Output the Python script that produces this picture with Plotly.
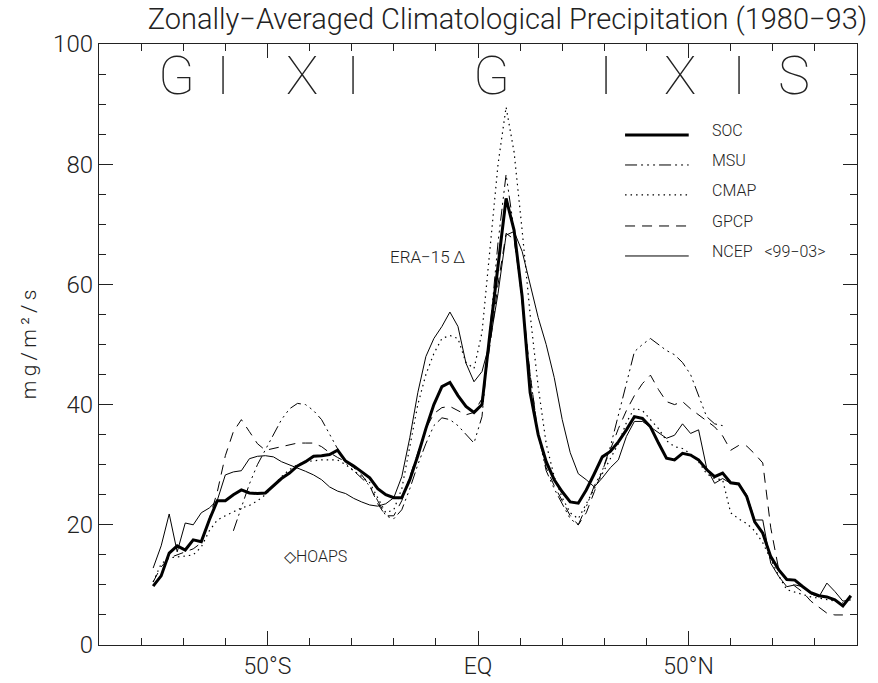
import plotly.graph_objects as go

# T62 Gaussian latitudes (deg)
lat = [-77.14, -75.24, -73.33, -71.43, -69.52, -67.62, -65.71, -63.81, -61.90, -60.00,
       -58.09, -56.19, -54.28, -52.38, -50.48, -48.57, -46.67, -44.76, -42.86, -40.95,
       -39.05, -37.14, -35.24, -33.33, -31.43, -29.52, -27.62, -25.71, -23.81, -21.90,
       -20.00, -18.10, -16.19, -14.29, -12.38, -10.48, -8.57, -6.67, -4.76, -2.86, -0.95,
       0.95, 2.86, 4.76, 6.67, 8.57, 10.48, 12.38, 14.29, 16.19, 18.10,
       20.00, 21.90, 23.81, 25.71, 27.62, 29.52, 31.43, 33.33, 35.24, 37.14,
       39.05, 40.95, 42.86, 44.76, 46.67, 48.57, 50.48, 52.38, 54.28, 56.19,
       58.09, 60.00, 61.90, 63.81, 65.71, 67.62, 69.52, 71.43, 73.33, 75.24,
       77.14, 79.04, 80.95, 82.85, 84.75, 86.65, 88.54]

soc = [9.8, 11.5, 15.3, 16.5, 15.8, 17.5, 17.2, 20.8, 24, 24,
       25, 25.8, 25.3, 25.2, 25.3, 26.5, 27.7, 28.6, 29.8, 30.5,
       31.4, 31.5, 31.7, 32.4, 30.6, 29.8, 28.8, 27.8, 26, 25,
       24.5, 24.5, 27.5, 31.5, 36, 40, 43, 43.7, 41.5, 39.7, 38.7,
       40, 52, 63.5, 74.3, 69, 58, 42, 35, 30.5, 27.5,
       25.5, 23.8, 23.6, 25.8, 28.5, 31.3, 32.2, 33.8, 35.8, 38,
       37.7, 36.3, 33.6, 31.1, 30.8, 31.9, 31.6, 30.8, 29.2, 28,
       28.6, 27, 26.8, 24.7, 20.5, 18.6, 14.7, 12.5, 10.9, 10.8,
       9.7, 8.7, 8.2, 8, 7.5, 6.5, 8.2]

msu = [None, None, None, None, None, None, None, None, None, None,
       19, 23, 26.8, 30, 32.5, 35, 37.5, 39.3, 40.2, 40,
       39, 37.5, 35, 32.5, 30.2, 29, 27.8, 26.5, 24, 21.5,
       21, 22.5, 26, 30, 33.5, 36.5, 37.8, 37.5, 36.5, 35, 33.6,
       38, 52, 67, 78.3, 69, 57, 45, 35, 29, 26,
       23.5, 21, 20, 23, 26.5, 29, 33, 38, 43.5, 48.8,
       50, 51, 50, 49, 48.3, 47, 45, 41.5, 38, 36.8,
       36.5, None, None, None, None, None, None, None, None, None,
       None, None, None, None, None, None, None]

cmap = [10.5, 13.5, 14.5, 14.6, 14.8, 15, 16.3, 19, 20.8, 21.5,
        22.1, 22.8, 23.2, 24, 25, 26.5, 28, 29.2, 30, 30.5,
        30.7, 30.8, 30.8, 30.8, 30, 29, 28, 27, 24.5, 22,
        22.5, 26, 33, 40, 45, 48.5, 51, 51.5, 51, 47, 46,
        52, 66, 80, 89.5, 82, 69, 55, 43, 33.5, 28,
        24.5, 22, 21, 23.5, 26, 28.5, 31, 33.5, 37, 39.4,
        39, 37.5, 36, 34, 33, 32.7, 31.8, 30.5, 28.5, 27.7,
        27.5, 22, 21, 20.2, 19, 17, 14.3, 11.5, 9.2, 8.8,
        8.5, 8, 7.8, 7.6, 7.3, 7, None]

gpcp = [10.5, 13, 14.5, 15, 15.5, 16, 17, 21, 25.5, 31.5,
        35.5, 37.5, 35.5, 33.5, 32.4, 32.7, 33, 33.3, 33.6, 33.6,
        33.6, 33, 32, 31.2, 30.5, 29.5, 28.3, 26.5, 23.5, 21.5,
        21.5, 24, 28, 32, 36, 38.5, 39.5, 39.7, 39, 38.3, 38.7,
        41, 50, 60, 68.5, 67.5, 58, 45, 35, 29.5, 26.5,
        24, 21.5, 20, 22, 25.5, 29, 32.5, 36, 39, 41.5,
        43.5, 44.9, 42.5, 40.5, 40, 40.5, 39.3, 38.3, 37.4, 36.3,
        34.8, 32.4, 33.2, 33.1, 31.8, 30.3, 19.5, 12.5, 11, 9.8,
        8.8, 7.3, 6.3, 5.3, 5, 5, None]

ncep = [12.8, 16.5, 21.8, 15.5, 20.3, 20, 22, 22.8, 24.1, 28.3,
        28.8, 29, 31, 31.4, 31.5, 31.3, 30.5, 30, 29.5, 28.9,
        28.3, 27.5, 26.3, 25.6, 25.2, 24.4, 23.8, 23.3, 23.1, 23.5,
        24.5, 28, 34.5, 42, 48, 51, 53, 55.4, 53, 46.9, 43.8,
        45.5, 50.5, 58.5, 68.2, 68.8, 65.5, 60, 54.5, 50, 44.5,
        37.5, 32, 28.5, 27.5, 26.3, 27.8, 29.5, 30.8, 34.7, 37.2,
        37.2, 36.3, 35.3, 34.4, 34.9, 36.8, 35.2, 35.8, 29.5, 26.9,
        27.7, 26.9, 26.9, 25, 20.8, 20.8, 13.6, 11.4, 9.7, 10,
        9.7, 8.5, 8, 10.3, 8.9, 7.3, 7.5]

series_names = ["SOC", "MSU", "CMAP", "GPCP", "NCEP   <99\u221203>"]
series_data = [soc, msu, cmap, gpcp, ncep]

x_tickvals = [-50, 0, 50]
x_ticktext = ["50\u00b0S", "EQ", "50\u00b0N"]
y_tickvals = [0, 20, 40, 60, 80, 100]

# top markers: (latitude, letter)
marker_lats = [-71.5, -60.6, -41.8, -29.7, 3.2, 30.4, 48.0, 62.0, 75.0]
marker_letters = ["G", "I", "X", "I", "G", "I", "X", "I", "S"]

styles = [
    dict(width=3, dash="solid"),
    dict(width=1, dash="12px,4px,2px,4px,2px,4px,2px,4px"),
    dict(width=1.2, dash="1.5px,4px"),
    dict(width=1, dash="10px,7px"),
    dict(width=1, dash="solid"),
]

FONT = "Roboto, Liberation Sans, sans-serif"
TXT = "#222222"
AX = "#222222"
TS = "\u2009"

fig = go.Figure()
for name, data, st in zip(series_names, series_data, styles):
    fig.add_trace(go.Scatter(x=lat, y=data, mode="lines", name=name,
                             line=dict(color="black", width=st["width"], dash=st["dash"]),
                             connectgaps=False, showlegend=False))

# manual legend
leg_y = [0.8486, 0.7987, 0.7488, 0.6972, 0.6473]
for name, st, yy in zip(series_names, styles, leg_y):
    fig.add_shape(type="line", xref="paper", yref="paper", x0=0.694, x1=0.778, y0=yy, y1=yy,
                  line=dict(color="black", width=st["width"], dash=st["dash"]))
    fig.add_annotation(xref="paper", yref="paper", x=0.806, y=yy + 0.008, text=name,
                       showarrow=False, xanchor="left", yanchor="middle",
                       font=dict(family=FONT, size=16, color=TXT, weight=300))

for la, le in zip(marker_lats, marker_letters):
    fig.add_annotation(x=la, y=94.8, text=le, showarrow=False, xanchor="center", yanchor="middle",
                       font=dict(family=FONT, size=54, color=TXT, weight=100))

fig.add_annotation(x=-2.6, y=64.5, text="ERA\u221215" + TS + "\u0394", showarrow=False,
                   xanchor="right", yanchor="middle",
                   font=dict(family=FONT, size=17, color=TXT, weight=300))
fig.add_annotation(x=-46.6, y=14.8, text="\u25c7HOAPS", showarrow=False,
                   xanchor="left", yanchor="middle",
                   font=dict(family=FONT, size=16, color=TXT, weight=300))

ytitle = TS.join(list("mg/m\u00b2/s"))

fig.update_layout(
    width=878, height=683,
    margin=dict(l=99, r=21, t=44, b=38, autoexpand=False),
    paper_bgcolor="white", plot_bgcolor="white",
    font=dict(family=FONT, color=TXT, weight=300),
    title=dict(text="Zonally\u2212Averaged Climatological Precipitation (1980\u221293)",
               x=0.578, xanchor="center", y=0.972, yanchor="middle",
               font=dict(family=FONT, size=29, color=TXT, weight=300)),
)
fig.update_xaxes(range=[-90, 90], showgrid=False, zeroline=False, automargin=False,
                 showline=True, linecolor=AX, linewidth=1.4, mirror="ticks",
                 ticks="inside", ticklen=14, tickwidth=1.4, tickcolor=AX,
                 tickvals=x_tickvals, ticktext=x_ticktext,
                 tickfont=dict(family=FONT, size=23, color=TXT, weight=300),
                 minor=dict(ticks="inside", ticklen=7, tick0=-90, dtick=10, tickcolor=AX,
                            tickwidth=1.4, showgrid=False))
fig.update_yaxes(range=[0, 100], showgrid=False, zeroline=False, automargin=False,
                 showline=True, linecolor=AX, linewidth=1.4, mirror="ticks",
                 ticks="inside", ticklen=14, tickwidth=1.4, tickcolor=AX,
                 tickvals=y_tickvals,
                 tickfont=dict(family=FONT, size=24, color=TXT, weight=300),
                 minor=dict(ticks="inside", ticklen=7, dtick=5, tickcolor=AX,
                            tickwidth=1.4, showgrid=False),
                 title=dict(text=ytitle, standoff=10,
                            font=dict(family=FONT, size=21, color=TXT, weight=300)))

fig.write_html("out.html")
